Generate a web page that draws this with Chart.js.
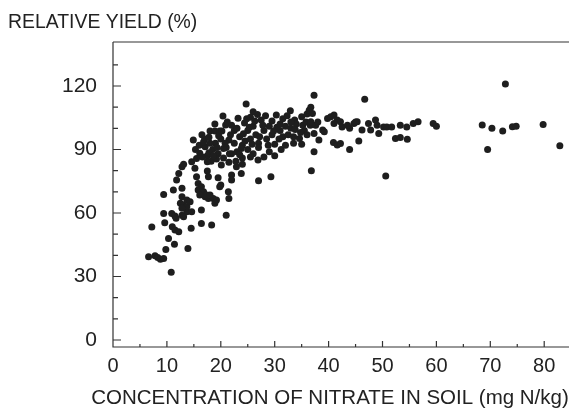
<!DOCTYPE html>
<html>
<head>
<meta charset="utf-8">
<script src="https://cdn.jsdelivr.net/npm/chart.js@4.4.1/dist/chart.umd.min.js"></script>
<style>
html, body { margin: 0; padding: 0; background: #fff; overflow: hidden; }
</style>
</head>
<body>
<canvas id="graphique" width="573" height="410"></canvas>
<script>
// Valeurs : nitrate (mg N/kg) et rendement relatif (%)
const nitrate = [
    // faibles teneurs
    6.6, 7.8, 8.3, 8.8, 9.4, 9.8, 10.8, 11.4, 13.9, 10.3,
    7.2, 9.6, 11.5, 12.2, 14.5, 11, 9.4, 10.9, 11.5, 12.8,
    13.7, 14.6, 11.7, 13.1, 12.5, 13.1, 13.7, 12.8, 12.8,
    13.7, 14.3, 9.4, 11.2, 12.8, 11.8, 12.2, 12.8, 13.1, 14.6,
    14.9,
    // 15-30, partie basse
    16.4, 18.3, 16.4, 21, 15.2, 15.5, 17.5, 17.7, 19.5, 19.8,
    21.4, 21.5, 15.8, 16.4, 15.8, 16.8, 16.1, 17.1, 17.7, 17.4,
    18.6, 19.2, 18, 18.9, 20, 22, 22, 22.9, 20.1, 23.8,
    27, 29.3,
    // 15-23, partie haute
    16.1, 15.5, 17.1, 18, 18.9, 19.8, 18.9, 20.9, 20.4, 16,
    17.5, 18.5, 19, 20, 21, 19.5, 20.5, 21.5, 18.2, 17,
    22, 22.5, 21.8, 15.3, 16.6, 17.8, 19.2, 20.5, 21.5, 22.5,
    21.2, 22, 16.8, 18, 19.6, 20.2, 21.6, 22.8, 17.5,
    16.5, 17.8, 19.3, 20.8, 18.6,
    // 23-38
    24.7, 26, 23.2, 24.4, 25.5, 27.5, 28.3, 30.3, 32.9, 29.5,
    31.5, 33.7, 35, 36, 36.4, 37.3, 36.7, 23, 23.5, 24,
    25, 25.5, 26, 26.5, 27, 28, 28.5, 29, 29.5, 30,
    31, 31.5, 32, 32.5, 33, 33.5, 34, 34.6, 35.5, 36,
    36.6, 37.3, 23, 24, 25, 26, 27, 28, 29, 31.2,
    26.9, 24, 30, 32, 33.5, 35, 37.3, 38.2, 27.2, 24.5,
    25.8, 28.8, 30.8, 33, 35.2, 27.8, 26.3, 24.2, 23.8, 30.4,
    32.3, 34.8, 29.8, 25.3, 36.8,
    23.5, 25.5, 24.8, 26.8, 31, 33.8, 35.8,
    // 37-60
    37, 36.7, 37.6, 38.9, 39.2, 39.8, 40.4, 41, 41.6,
    42.2, 42.5, 43.9, 44.7, 45.3, 46.2, 47.4, 47.8, 48.7, 49,
    49.3, 50.2, 50.8, 51.7, 53.3, 54.5, 55.7, 56.6, 59.4, 60,
    40.9, 41.6, 42.2, 43.9, 45.6, 52.4, 53.3, 54.6, 50.6, 46.7,
    41, 43.5, 45, 38,
    // fortes teneurs
    72.8, 68.5, 70.3, 72.3, 74.1, 74.8, 79.8, 82.9, 69.5
];
const rendement = [
    39.3, 39.8, 39, 38.2, 38.5, 42.8, 32, 45.2, 43.2, 48,
    53.4, 55.4, 52, 51.2, 52.8, 53.5, 59.8, 59.8, 58.6, 59,
    60.6, 60.6, 57.5, 58.2, 64.6, 63.8, 63, 62.2, 67.7,
    66.1, 65.3, 68.8, 70.9, 71.7, 75.6, 78.7, 81.9, 83, 84.2,
    94.5,

    55.1, 54.3, 61.4, 59, 81.1, 77.1, 79.8, 77.1, 76.7, 72.4,
    70, 66.9, 74, 72.4, 70.9, 70, 68.5, 67.7, 66.9, 68.5,
    66.9, 66.1, 68.5, 64.6, 73.2, 78, 75.6, 81.9, 82.7, 78.7,
    75.2, 77.1,

    88.2, 85.8, 91.3, 98.7, 98.7, 98.7, 102, 101.6, 105.8, 92,
    87, 90, 93, 95, 91, 88, 86, 84, 84.5, 95,
    88, 93, 97, 90, 86.5, 88.5, 85.5, 90.5, 94.5, 99,
    103, 101.5, 93.5, 93, 96.5, 98.8, 88, 84.5, 84.2,
    97, 95.8, 91, 93, 87,

    111.5, 107.8, 104.8, 102.5, 105.3, 104, 106, 106.3, 108.3, 103.5,
    104.5, 104, 105.5, 106.8, 108.6, 115.7, 110, 100, 96, 92,
    99, 95, 101, 97, 93, 99, 95, 101, 97, 92.5,
    99, 96, 101, 97, 100, 96, 102, 95.2, 99, 97,
    101.5, 97.6, 89, 86, 90, 88, 91, 86.5, 89, 90,
    85, 83, 87, 92, 93, 92.5, 88.9, 94.5, 96, 94,
    92.5, 92, 95, 103, 101.5, 101.5, 103.5, 97.5, 90.5, 100.5,
    106, 98, 98.8, 100.5, 80,
    87.5, 86.5, 104.5, 106.5, 102, 99.5, 103,

    107, 103.1, 101.5, 99.2, 98.4, 104.7, 105.5, 106.3, 103.9,
    103.1, 100.7, 100, 102.3, 103.1, 99.2, 102.3, 99.2, 103.9, 101.5,
    97.6, 100.7, 100.7, 100.7, 101.5, 100.7, 102.3, 103.1, 102.3, 101,
    93.3, 92.1, 92.9, 90, 94, 95.2, 95.7, 94.8, 77.5, 113.7,
    102.3, 101.5, 103, 103,

    120.9, 101.6, 100, 98.7, 100.8, 101, 101.8, 91.8, 90
];

const etiquettesX = [0, 10, 20, 30, 40, 50, 60, 70, 80];
const etiquettesY = [0, 30, 60, 90, 120];
const titreY = "RELATIVE YIELD (%)";
const titreX = "CONCENTRATION OF NITRATE IN SOIL (mg N/kg)";

const police = '"Liberation Sans", Arial, sans-serif';
const points = nitrate.map((x, i) => ({ x: x, y: rendement[i] }));

// cadre : trait du haut, axes et graduations tournées vers l'intérieur
const cadre = {
    id: 'cadre',
    afterDraw(chart) {
        const { ctx, chartArea: a, scales: { x, y } } = chart;
        ctx.save();
        ctx.strokeStyle = '#333';
        ctx.lineWidth = 1.2;
        ctx.beginPath();
        ctx.moveTo(a.left, a.top);
        ctx.lineTo(a.right, a.top);
        ctx.moveTo(a.left, a.top);
        ctx.lineTo(a.left, a.bottom);
        ctx.lineTo(a.right, a.bottom);
        for (let v = 0; v <= 130; v += 10) {
            const p = y.getPixelForValue(v);
            const l = v % 30 === 0 ? 8 : 5;
            ctx.moveTo(a.left, p);
            ctx.lineTo(a.left + l, p);
        }
        for (let v = 5; v <= 80; v += 5) {
            const p = x.getPixelForValue(v);
            const l = v % 10 === 0 ? 6 : 3;
            ctx.moveTo(p, a.bottom);
            ctx.lineTo(p, a.bottom - l);
        }
        ctx.stroke();

        ctx.fillStyle = '#222';
        ctx.textBaseline = 'middle';
        ctx.textAlign = 'left';
        ctx.font = '19.4px ' + police;
        ctx.fillText(titreY, 8, 23);
        ctx.textAlign = 'center';
        ctx.font = '20.5px ' + police;
        ctx.fillText(titreX, 330, 398);
        ctx.restore();
    }
};

new Chart(document.getElementById("graphique"), {
    type: 'scatter',
    data: {
        datasets: [{
            data: points,
            pointRadius: 3.5,
            pointBackgroundColor: '#1e1e1e',
            pointBorderWidth: 0
        }]
    },
    options: {
        responsive: false,
        animation: false,
        layout: { padding: { top: 42, right: 0, left: 0, bottom: 0 } },
        plugins: { legend: { display: false }, tooltip: { enabled: false } },
        scales: {
            x: {
                type: 'linear',
                min: 0,
                max: 84.6,
                afterBuildTicks: s => { s.ticks = etiquettesX.map(v => ({ value: v })); },
                afterFit: s => { s.height = 63; },
                grid: { display: false, drawTicks: false },
                border: { display: false },
                ticks: { padding: 7, color: '#222', font: { size: 20, family: police } }
            },
            y: {
                min: -3.3,
                max: 140.8,
                afterBuildTicks: s => { s.ticks = etiquettesY.map(v => ({ value: v })); },
                afterFit: s => { s.width = 113; },
                grid: { display: false, drawTicks: false },
                border: { display: false },
                ticks: { padding: 16, color: '#222', font: { size: 21, family: police } }
            }
        }
    },
    plugins: [cadre]
});
</script>
</body>
</html>
